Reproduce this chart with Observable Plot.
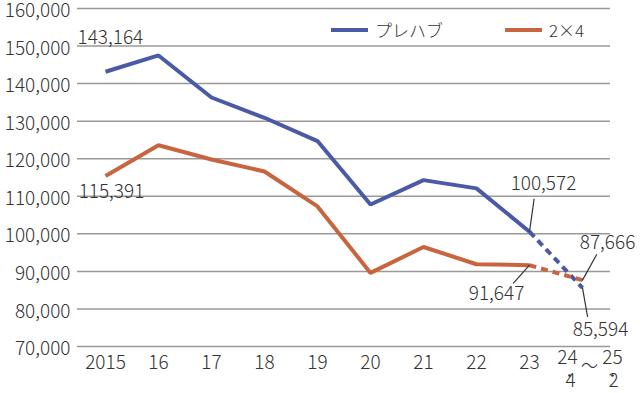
<!DOCTYPE html>
<html>
<head>
<meta charset="utf-8">
<script src="https://cdn.jsdelivr.net/npm/d3@7"></script>
<script src="https://cdn.jsdelivr.net/npm/@observablehq/plot@0.6"></script>
<style>
  html, body { margin: 0; padding: 0; background: #fff; }
  #chart { position: relative; width: 640px; height: 393px; font-family: "Noto Sans CJK JP", "Noto Sans", sans-serif; color: #333; }
  #chart svg text { font-weight: 300; }
  #legend { position: absolute; top: 17px; left: 331px; display: flex; align-items: center; font-size: 17px; font-weight: 300; color: #333; }
  .item { display: flex; align-items: center; }
  .swatch { width: 37px; height: 4px; margin-right: 7px; }
</style>
</head>
<body>
<div id="chart"></div>
<script>
// ---- data ----
const categories = ["2015", "16", "17", "18", "19", "20", "21", "22", "23", "24.4～25.2"];
const seriesNames = ["プレハブ", "2×4"];
const prefab = [143164, 147500, 136300, 130900, 124700, 107800, 114300, 112100, 100572, 85594];
const twoByFour = [115391, 123600, 119800, 116600, 107300, 89600, 96500, 91900, 91647, 87666];
const yTicks = [70000, 80000, 90000, 100000, 110000, 120000, 130000, 140000, 150000, 160000];
const colors = ["#4a5aa6", "#c8653f"];

// ---- build table ----
const values = [prefab, twoByFour];
const rows = [];
seriesNames.forEach((s, si) => categories.forEach((c, i) => rows.push({series: s, cat: c, i, value: values[si][i]})));
const lastSolid = 8;
const solid = rows.filter(d => d.i <= lastSolid);
const dashed = rows.filter(d => d.i >= lastSolid);

// value annotations (label offset in px, optional leader line)
const notes = [
  {s: 0, i: 0, dx: -28, dy: -34, anchor: "start"},
  {s: 1, i: 0, dx: 6, dy: 16, anchor: "middle"},
  {s: 0, i: 8, dx: 14, dy: -48, anchor: "middle", len: 33, rot: 8},
  {s: 1, i: 9, dx: 25, dy: -37, anchor: "middle", len: 29, rot: 29},
  {s: 0, i: 9, dx: 18, dy: 42, anchor: "middle", len: 29, rot: 170},
  {s: 1, i: 8, dx: -33, dy: 29, anchor: "middle", len: 24, rot: 222}
].map(n => ({...n, cat: categories[n.i], value: values[n.s][n.i], text: d3.format(",")(values[n.s][n.i])}));

const lastCat = categories[categories.length - 1];
const leaderShape = {draw(ctx, l) { ctx.moveTo(0, 0); ctx.lineTo(0, -l); }};

const fs = 19;
const txt = "#333";
const lastLabel = (text, dx, dy, size) => Plot.text([lastCat], {x: d => d, frameAnchor: "bottom", text: [text], dx, dy, fontSize: size || fs, fill: txt});

const plot = Plot.plot({
  width: 640,
  height: 393,
  marginTop: 8,
  marginBottom: 47,
  marginLeft: 77,
  marginRight: 30,
  style: {fontFamily: '"Noto Sans CJK JP", "Noto Sans", sans-serif', fontSize: fs + "px", color: txt, background: "#fff", overflow: "visible"},
  x: {type: "point", domain: categories, padding: 0.5},
  y: {domain: [70000, 160000]},
  marks: [
    Plot.gridY(yTicks, {stroke: "#999", strokeOpacity: 1, strokeWidth: 1.5}),
    Plot.axisY(yTicks, {tickSize: 0, tickPadding: 7, dy: 2.5, tickFormat: d3.format(","), fontSize: fs, fill: txt, label: null}),
    Plot.axisX(categories.slice(0, -1), {tickSize: 0, tickPadding: 9, fontSize: fs, fill: txt, label: null}),
    // last category label: 24・4 ～ 25・2 (stacked)
    lastLabel("24", -15, 17),
    lastLabel("25", 30, 17),
    lastLabel("4", -12, 40),
    lastLabel("2", 31, 40),
    lastLabel("～", 7, 25, 17),
    Plot.dot([lastCat], {x: d => d, frameAnchor: "bottom", dx: -13, dy: 29, r: 1.3, fill: txt}),
    Plot.dot([lastCat], {x: d => d, frameAnchor: "bottom", dx: 30, dy: 29, r: 1.3, fill: txt}),
    // lines
    Plot.line(solid, {x: "cat", y: "value", z: "series", stroke: d => colors[seriesNames.indexOf(d.series)], strokeWidth: 4, strokeLinejoin: "miter", strokeLinecap: "butt"}),
    Plot.line(dashed, {x: "cat", y: "value", z: "series", stroke: d => colors[seriesNames.indexOf(d.series)], strokeWidth: 4, strokeDasharray: "7,5", strokeLinecap: "butt"}),
    // leaders
    ...notes.filter(n => n.len).map(n => Plot.vector([n], {x: "cat", y: "value", length: n.len, rotate: n.rot, anchor: "start", shape: leaderShape, stroke: txt, strokeWidth: 1.2})),
    // labels
    ...notes.map(n => Plot.text([n], {x: "cat", y: "value", text: "text", dx: n.dx, dy: n.dy, textAnchor: n.anchor, fontSize: fs, fill: txt}))
  ]
});

const chart = document.getElementById("chart");
chart.appendChild(plot);

const legend = document.createElement("div");
legend.id = "legend";
seriesNames.forEach((s, si) => {
  const it = document.createElement("div");
  it.className = "item";
  if (si > 0) it.style.marginLeft = "62px";
  const sw = document.createElement("span");
  sw.className = "swatch";
  sw.style.background = colors[si];
  const tx = document.createElement("span");
  tx.textContent = s;
  it.appendChild(sw);
  it.appendChild(tx);
  legend.appendChild(it);
});
chart.appendChild(legend);
</script>
</body>
</html>
